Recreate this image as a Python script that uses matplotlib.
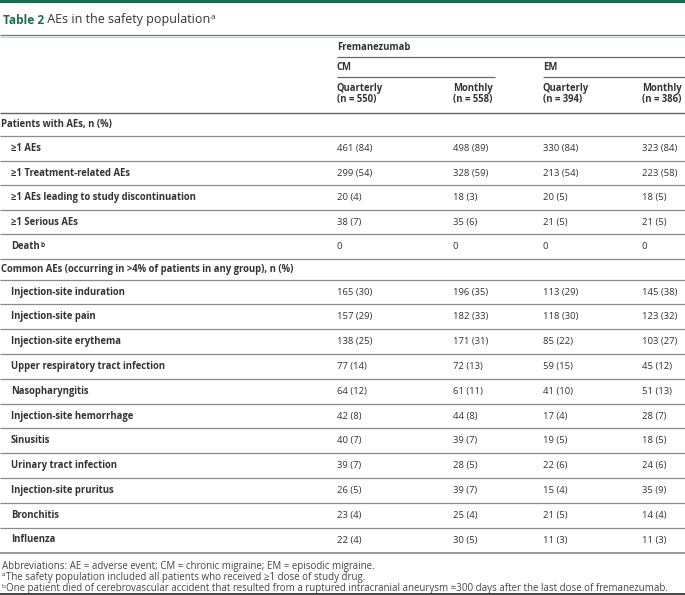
import matplotlib
matplotlib.use('Agg')
import matplotlib.pyplot as plt
from matplotlib import font_manager as fm

plt.rcParams['font.family'] = ['Open Sans', 'DejaVu Sans']


def find_font(fname):
    for f in fm.fontManager.ttflist:
        if f.fname.endswith('/' + fname):
            return fm.FontProperties(fname=f.fname)
    return None


SEMI = find_font('OpenSans-Bold.ttf')
REG = find_font('OpenSans-Regular.ttf')
BLD = find_font('OpenSans-Bold.ttf')

# ---------------- data ----------------
title_num = "Table 2"
title_text = "AEs in the safety population"
group_label = "Fremanezumab"
subgroups = ["CM", "EM"]
col_names = ["Quarterly", "Monthly", "Quarterly", "Monthly"]
col_n = [550, 558, 394, 386]

section1 = "Patients with AEs, n (%)"
rows1 = ["≥1 AEs", "≥1 Treatment-related AEs",
         "≥1 AEs leading to study discontinuation", "≥1 Serious AEs", "Death"]
rows1_sup = ["", "", "", "", "b"]
cm_q1 = [(461, 84), (299, 54), (20, 4), (38, 7), (0, None)]
cm_m1 = [(498, 89), (328, 59), (18, 3), (35, 6), (0, None)]
em_q1 = [(330, 84), (213, 54), (20, 5), (21, 5), (0, None)]
em_m1 = [(323, 84), (223, 58), (18, 5), (21, 5), (0, None)]

section2 = "Common AEs (occurring in >4% of patients in any group), n (%)"
rows2 = ["Injection-site induration", "Injection-site pain", "Injection-site erythema",
         "Upper respiratory tract infection", "Nasopharyngitis",
         "Injection-site hemorrhage", "Sinusitis", "Urinary tract infection",
         "Injection-site pruritus", "Bronchitis", "Influenza"]
cm_q2 = [(165, 30), (157, 29), (138, 25), (77, 14), (64, 12), (42, 8), (40, 7),
         (39, 7), (26, 5), (23, 4), (22, 4)]
cm_m2 = [(196, 35), (182, 33), (171, 31), (72, 13), (61, 11), (44, 8), (39, 7),
         (28, 5), (39, 7), (25, 4), (30, 5)]
em_q2 = [(113, 29), (118, 30), (85, 22), (59, 15), (41, 10), (17, 4), (19, 5),
         (22, 6), (15, 4), (21, 5), (11, 3)]
em_m2 = [(145, 38), (123, 32), (103, 27), (45, 12), (51, 13), (28, 7), (18, 5),
         (24, 6), (35, 9), (14, 4), (11, 3)]

footnotes = [("", "Abbreviations: AE = adverse event; CM = chronic migraine; EM = episodic migraine."),
             ("a", "The safety population included all patients who received ≥1 dose of study drug."),
             ("b", "One patient died of cerebrovascular accident that resulted from a ruptured intracranial aneurysm ≈300 days after the last dose of fremanezumab.")]

# ---------------- layout ----------------
W, H = 685, 595
fig = plt.figure(figsize=(W / 100, H / 100), dpi=100)
ax = fig.add_axes([0, 0, 1, 1])
ax.set_xlim(0, W)
ax.set_ylim(H, 0)
ax.axis('off')

GREEN = '#1d6b4f'
TXT = '#333333'
LINE = '#8a8a8a'
FS = 6.8
FSB = 6.85
col_x = [337, 453, 543, 642]


def fp(base, size):
    if base is None:
        return None
    p = base.copy()
    p.set_size(size)
    return p


def fmt(v):
    n, p = v
    return f"{n}" if p is None else f"{n} ({p})"


def hline(y, x0=0, x1=W, color=LINE, lw=0.9):
    ax.plot([x0, x1], [y, y], color=color, lw=lw, solid_capstyle='butt')


def semi(x, y, s, size=FSB):
    p = fp(SEMI, size)
    if p is None:
        return ax.text(x, y, s, fontsize=size, fontweight='bold', color=TXT,
                       ha='left', va='center')
    return ax.text(x, y, s, fontproperties=p, color=TXT, ha='left', va='center')


def reg(x, y, s, size=FS, color=TXT):
    p = fp(REG, size)
    if p is None:
        return ax.text(x, y, s, fontsize=size, color=color, ha='left', va='center')
    return ax.text(x, y, s, fontproperties=p, color=color, ha='left', va='center')


def sup(t, s, size=4.8):
    p = fp(SEMI, size)
    kw = dict(fontproperties=p) if p is not None else dict(fontsize=size)
    ax.annotate(s, xy=(1, 1), xycoords=t, xytext=(0.3, -0.2), textcoords='offset points',
                ha='left', va='top', color=TXT, **kw)


# top bar
ax.fill_between([0, W], 0, 3.2, color=GREEN, lw=0)
bp = fp(BLD, 8.6)
t1 = ax.text(3, 20, title_num, color=GREEN, ha='left', va='center',
             **(dict(fontproperties=bp) if bp is not None else dict(fontsize=8.6, fontweight='bold')))
rp = fp(REG, 9.0)
t2 = ax.annotate(" " + title_text, xy=(1, 0.5), xycoords=t1, ha='left', va='center', color=TXT,
                 **(dict(fontproperties=rp) if rp is not None else dict(fontsize=9.0)))
ax.annotate("a", xy=(1, 1), xycoords=t2, xytext=(0.3, -0.6), textcoords='offset points',
            ha='left', va='top', fontsize=6.0, color=TXT)
hline(35.2, color='#3c8f6f', lw=0.9)
hline(36.5, color='#b9dccd', lw=0.9)

# header
semi(col_x[0], 47, group_label)
hline(56.5, col_x[0], W, color='#666666')
semi(col_x[0], 67, subgroups[0])
semi(col_x[2], 67, subgroups[1])
hline(76.5, col_x[0], 495, color='#666666')
hline(76.5, col_x[2], W, color='#666666')
for x, name, n in zip(col_x, col_names, col_n):
    semi(x, 88, name)
    semi(x, 99.5, f"(n = {n})")
hline(113, color='#666666', lw=1.0)

# section 1
semi(1, 124.5, section1)
hline(136)
pitch = 24.6
y = 148.5
for i, lab in enumerate(rows1):
    t = semi(11, y, lab)
    if rows1_sup[i]:
        sup(t, rows1_sup[i])
    for x, col in zip(col_x, [cm_q1, cm_m1, em_q1, em_m1]):
        reg(x, y, fmt(col[i]))
    hline(y + 12)
    y += pitch

# section 2
semi(1, 269.5, section2)
hline(280)
y = 292
pitch2 = 24.8
for i, lab in enumerate(rows2):
    semi(11, y, lab)
    for x, col in zip(col_x, [cm_q2, cm_m2, em_q2, em_m2]):
        reg(x, y, fmt(col[i]))
    if i < len(rows2) - 1:
        hline(y + 12.4)
    y += pitch2
last = y - pitch2
hline(last + 12.6, color='#9a9a9a', lw=1.4)

# footnotes
fy = last + 26
for s, txt in footnotes:
    if s:
        reg(2, fy - 2.5, s, size=4.6, color='#444444')
        reg(6.5, fy, txt, size=7.05, color='#444444')
    else:
        reg(2, fy, txt, size=7.05, color='#444444')
    fy += 11.5
hline(H - 1.2, color='#444444', lw=1.4)

fig.savefig('out.png', dpi=100)
